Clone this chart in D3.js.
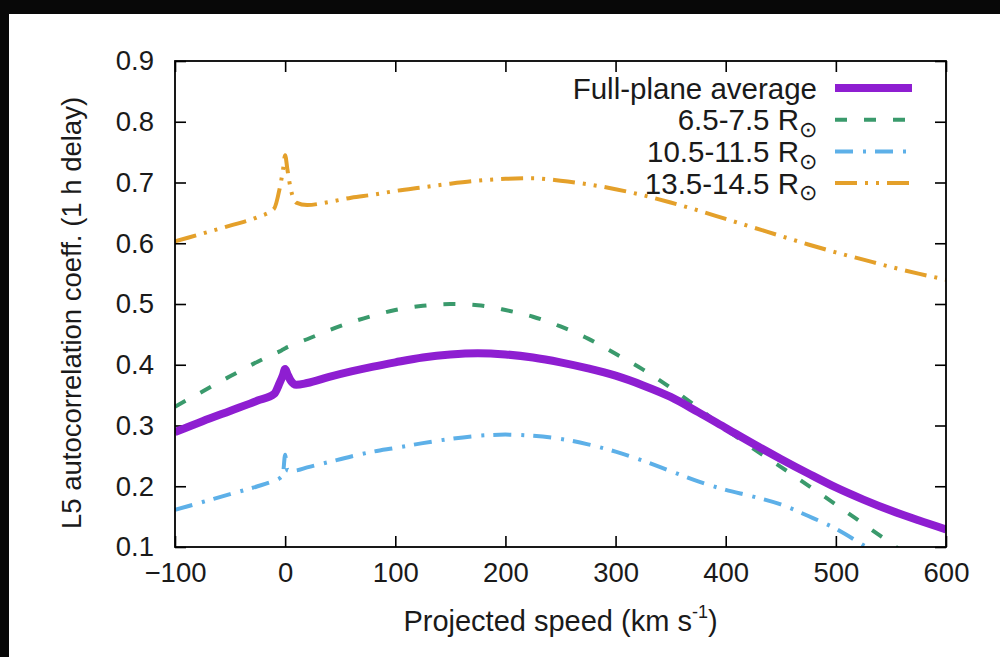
<!DOCTYPE html>
<html>
<head>
<meta charset="utf-8">
<script src="https://cdn.jsdelivr.net/npm/d3@7"></script>
<style>
  html, body { margin: 0; padding: 0; background: #fff; }
  svg { display: block; }
  text { font-family: "Liberation Sans", Arial, Helvetica, sans-serif; fill: #1a1a1a; }
</style>
</head>
<body>
<svg id="chart" width="1000" height="657"></svg>
<script>
// Projected speed samples (km/s)
const speed = [-100,-75,-50,-25,-10,-5,-2,0,2,5,10,20,40,60,80,100,125,150,175,200,225,250,275,300,325,350,375,400,425,450,475,500,525,550,575,600];

// L5 autocorrelation coefficient (1 h delay) per series
const fullPlane = [0.289,0.307,0.324,0.341,0.352,0.370,0.383,0.393,0.385,0.374,0.367,0.370,0.380,0.389,0.397,0.404,0.412,0.417,0.419,0.417,0.412,0.404,0.394,0.382,0.366,0.347,0.322,0.296,0.270,0.245,0.221,0.198,0.178,0.160,0.144,0.129];
const band65 = [0.331,0.356,0.381,0.405,0.418,0.422,0.425,0.427,0.429,0.431,0.435,0.442,0.457,0.470,0.481,0.490,0.497,0.500,0.498,0.490,0.479,0.463,0.443,0.418,0.392,0.362,0.329,0.294,0.262,0.232,0.201,0.170,0.138,0.106,0.074,0.042];
const band105 = [0.161,0.174,0.187,0.200,0.209,0.213,0.220,0.252,0.226,0.225,0.226,0.231,0.240,0.249,0.257,0.263,0.271,0.278,0.283,0.285,0.283,0.278,0.269,0.257,0.242,0.225,0.208,0.194,0.183,0.170,0.151,0.130,0.103,0.076,0.050,0.025];
const band135 = [0.603,0.616,0.629,0.643,0.657,0.690,0.720,0.745,0.722,0.690,0.667,0.663,0.668,0.675,0.680,0.686,0.692,0.698,0.703,0.706,0.707,0.703,0.697,0.689,0.679,0.667,0.654,0.640,0.626,0.612,0.598,0.585,0.573,0.561,0.550,0.540];

const xTicks = [-100,0,100,200,300,400,500,600];
const yTicks = [0.1,0.2,0.3,0.4,0.5,0.6,0.7,0.8,0.9];

const series = [
  {label: "Full-plane average", sub: null, values: fullPlane, color: "#8e1ed1", width: 8, dash: null},
  {label: "6.5-7.5 R", sub: "\u2299", values: band65, color: "#3a9a6c", width: 4, dash: "12,17"},
  {label: "10.5-11.5 R", sub: "\u2299", values: band105, color: "#5db0e8", width: 4, dash: "18,10,3,9"},
  {label: "13.5-14.5 R", sub: "\u2299", values: band135, color: "#e4a02a", width: 4, dash: "22,8,3,8,3,8"}
];

const svg = d3.select("#chart");
const W = 1000, H = 657;
const plot = {left: 175, right: 946, top: 61, bottom: 547};

svg.append("rect").attr("width", W).attr("height", H).attr("fill", "#fff");

const x = d3.scaleLinear().domain([-100, 600]).range([plot.left, plot.right]);
const y = d3.scaleLinear().domain([0.1, 0.9]).range([plot.bottom, plot.top]);

svg.append("clipPath").attr("id", "plotClip")
  .append("rect")
  .attr("x", plot.left).attr("y", plot.top)
  .attr("width", plot.right - plot.left).attr("height", plot.bottom - plot.top);

// Axes: ticks point inward, mirrored on top and right
const tickLen = 11;
const fmtY = d3.format(".1f");
const axB = svg.append("g").attr("transform", `translate(0,${plot.bottom})`)
  .call(d3.axisBottom(x).tickValues(xTicks).tickSize(-tickLen).tickPadding(tickLen + 14).tickFormat(d3.format("d")));
const axT = svg.append("g").attr("transform", `translate(0,${plot.top})`)
  .call(d3.axisTop(x).tickValues(xTicks).tickSize(-tickLen).tickFormat(""));
const axL = svg.append("g").attr("transform", `translate(${plot.left},0)`)
  .call(d3.axisLeft(y).tickValues(yTicks).tickSize(-tickLen).tickPadding(tickLen + 10).tickFormat(fmtY));
const axR = svg.append("g").attr("transform", `translate(${plot.right},0)`)
  .call(d3.axisRight(y).tickValues(yTicks).tickSize(-tickLen).tickFormat(""));

[axB, axT, axL, axR].forEach(g => {
  g.select(".domain").remove();
  g.selectAll(".tick line").attr("stroke", "#000").attr("stroke-width", 1.6);
  g.selectAll("text").attr("font-size", 27.5).attr("fill", "#1a1a1a")
    .style("font-family", '"Liberation Sans", Arial, sans-serif');
});
axB.selectAll("text").attr("dy", "0.35em");

// Series lines
const line = d3.line().x((d, i) => x(speed[i])).y(d => y(d)).curve(d3.curveMonotoneX);
const lines = svg.append("g").attr("clip-path", "url(#plotClip)");
// thin styles first, then the average on top
[3, 1, 2, 0].forEach(k => {
  const s = series[k];
  lines.append("path")
    .datum(s.values)
    .attr("d", line)
    .attr("fill", "none")
    .attr("stroke", s.color)
    .attr("stroke-width", s.width)
    .attr("stroke-dasharray", s.dash)
    .attr("stroke-linejoin", "miter")
    .attr("stroke-linecap", "butt");
});

// Frame
svg.append("rect")
  .attr("x", plot.left).attr("y", plot.top)
  .attr("width", plot.right - plot.left).attr("height", plot.bottom - plot.top)
  .attr("fill", "none").attr("stroke", "#000").attr("stroke-width", 1.8);

// Legend
const legend = svg.append("g");
const legTextRight = 817, sampleX0 = 835, sampleX1 = 912, rowY0 = 88, rowStep = 31.7;
series.forEach((s, i) => {
  const cy = rowY0 + i * rowStep;
  const t = legend.append("text")
    .attr("x", legTextRight).attr("y", cy)
    .attr("text-anchor", "end").attr("dy", "0.36em")
    .attr("font-size", 29.5);
  t.append("tspan").text(s.label);
  if (s.sub) {
    t.append("tspan").attr("font-size", 22).attr("dy", "0.3em").text(s.sub);
  }
  legend.append("line")
    .attr("x1", sampleX0).attr("x2", sampleX1)
    .attr("y1", cy).attr("y2", cy)
    .attr("stroke", s.color).attr("stroke-width", s.width)
    .attr("stroke-dasharray", s.dash);
});

// Axis titles
const xt = svg.append("text")
  .attr("x", (plot.left + plot.right) / 2).attr("y", 631)
  .attr("text-anchor", "middle").attr("font-size", 29);
xt.append("tspan").text("Projected speed (km s");
xt.append("tspan").attr("font-size", 18).attr("dy", "-0.75em").text("-1");
xt.append("tspan").attr("dy", "0.46em").text(")");

svg.append("text")
  .attr("transform", `translate(81,${(plot.top + plot.bottom) / 2 + 9}) rotate(-90)`)
  .attr("text-anchor", "middle").attr("font-size", 27.5)
  .text("L5 autocorrelation coeff. (1 h delay)");

// Dark border bands
svg.append("rect").attr("x", 0).attr("y", 0).attr("width", W).attr("height", 14).attr("fill", "#080808");
svg.append("rect").attr("x", 0).attr("y", 0).attr("width", 9).attr("height", H).attr("fill", "#080808");
</script>
</body>
</html>
